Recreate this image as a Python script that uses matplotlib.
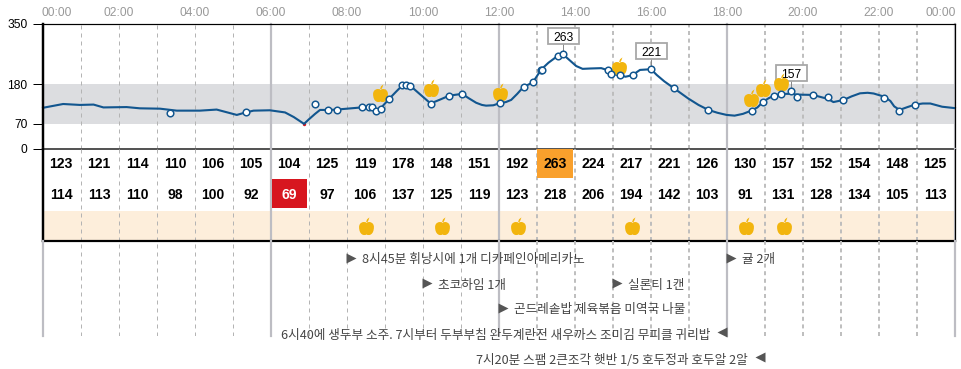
import matplotlib
matplotlib.use("Agg")
import matplotlib.pyplot as plt
from matplotlib.path import Path
from matplotlib.patches import Rectangle
from matplotlib.transforms import IdentityTransform

plt.rcParams['font.family'] = ['Liberation Sans', 'DejaVu Sans']

# --- data -------------------------------------------------------------
curve_h = [0, .25, .53, .97, 1.33, 1.59, 2.2, 2.55, 3.08, 3.52, 4.13, 4.57, 5.1, 5.3, 5.54, 5.97, 6.37, 6.6,
           6.87, 7.0, 7.16, 7.29, 7.51, 7.73, 8.38, 8.6, 8.76, 8.88, 9.11, 9.3, 9.46, 9.65, 10.2, 10.45, 10.69, 11.03,
           11.2, 11.4, 11.55, 11.66, 11.85, 12.02, 12.18, 12.32, 12.48, 12.64, 12.89, 13.11, 13.3, 13.54, 13.68, 13.85, 14.03,
           14.2, 14.4, 14.69, 14.84, 14.92, 15.16, 15.33, 15.5, 15.6, 15.71, 16.0, 16.15, 16.35, 16.6, 16.98, 17.25, 17.51,
           17.75, 17.99, 18.2, 18.42, 18.64, 18.8, 18.95, 19.1,
           19.24, 19.43, 19.7, 19.84, 20.26, 20.65, 20.8, 21.07, 21.28, 21.5, 21.7, 21.86, 22.14, 22.3, 22.4, 22.54, 22.75, 22.95,
           23.15, 23.35, 23.66, 24]
curve_v = [114, 119, 124.6, 122, 123, 115, 116, 112.5, 111.5, 106, 106, 109, 94, 100, 106, 107, 101, 88,
           69, 82, 97, 108, 108, 109, 115, 115, 106, 112, 139, 160, 177, 177, 126, 137, 148, 153,
           141, 128, 122, 120, 121, 127, 130, 136, 153, 172, 185, 221, 240, 259, 264, 248, 231,
           223, 224, 225, 220, 210, 205, 201, 205, 212, 220, 222, 206, 188, 169, 140, 122, 108,
           100, 94, 92, 97, 106, 115, 131, 141,
           148, 153, 153, 151, 150, 139, 130, 136, 146, 154.5, 156, 154, 145, 133, 118, 108, 116, 123,
           126, 126, 117, 113]

marker_h = [3.34, 5.35, 7.16, 7.51, 7.73, 8.39, 8.58, 8.67, 8.75, 8.89, 9.11, 9.46, 9.56, 9.65, 10.21,
            10.69, 11.03, 12.03, 12.66, 12.90, 13.1, 13.12, 13.55, 13.69, 14.86, 14.94, 15.18, 15.53,
            16.0, 16.6, 17.51, 18.65, 18.96, 19.24, 19.43, 19.69, 19.83, 20.25, 20.65, 21.06, 22.13,
            22.53, 22.94]
marker_v = [99, 101, 125, 108, 109, 116, 116, 115, 106, 112, 139, 177, 179, 176, 126,
            148, 153, 128, 172, 185, 219, 221, 259, 264, 220, 210, 205, 205,
            222, 169, 108, 106, 131, 148, 153, 160, 143, 150, 144, 136, 142,
            106, 123]

callout_h = [13.69, 16.0, 19.69]
callout_v = [264, 222, 160]
callout_text = ['263', '221', '157']

apple_h = [8.87, 10.21, 12.03, 15.16, 18.63, 18.95, 19.42]
apple_v = [155.5, 169.5, 158, 231, 141.5, 169.5, 186]
strip_apple_h = [8.5, 10.5, 12.5, 15.5, 18.5, 19.5]

row_high = [123, 121, 114, 110, 106, 105, 104, 125, 119, 178, 148, 151,
            192, 263, 224, 217, 221, 126, 130, 157, 152, 154, 148, 125]
row_low = [114, 113, 110, 98, 100, 92, 69, 97, 106, 137, 125, 119,
           123, 218, 206, 194, 142, 103, 91, 131, 128, 134, 105, 113]

hour_labels = ['00:00', '02:00', '04:00', '06:00', '08:00', '10:00', '12:00',
               '14:00', '16:00', '18:00', '20:00', '22:00', '00:00']
hour_label_pos = [.37, 2, 4, 6, 8, 10, 12, 14, 16, 18, 20, 22, 23.63]
y_ticks = [0, 70, 180, 350]

note_right_h = [8, 10, 12, 15, 18]
note_right_row = [260, 285, 310, 285, 260]
note_right_text = ['8시45분 휘낭시에 1개 디카페인아메리카노', '초코하임 1개',
                   '곤드레솥밥 제육볶음 미역국 나물', '실론티 1캔', '귤 2개']
note_left_h = [18, 19]
note_left_row = [334, 359]
note_left_text = ['6시40에 생두부 소주. 7시부터 두부부침 완두계란전 새우까스 조미김 무피클 귀리밥',
                  '7시20분 스팸 2큰조각 햇반 1/5 호두정과 호두알 2알']

# --- layout -----------------------------------------------------------
W, H = 962, 369
PX = 0.72
X0, X1 = 43, 955
fig = plt.figure(figsize=(W / 100, H / 100), dpi=100)


def make_ax(top, bottom):
    a = fig.add_axes([X0 / W, 1 - bottom / H, (X1 - X0) / W, (bottom - top) / H])
    a.set_xlim(0, 24)
    a.patch.set_alpha(0)
    for s in a.spines.values():
        s.set_visible(False)
    a.set_xticks([])
    a.set_yticks([])
    return a


ax = make_ax(23.5, 148.5)
tb = make_ax(148.5, 241)
nt = make_ax(241, 336)
ax.set_ylim(0, 350)
tb.set_ylim(241, 148.5)
nt.set_ylim(336, 241)

BLUE = '#12568f'
APPLE = '#f2b50e'

apple = Path(
    [(0, -.88), (.25, -1.05), (.82, -.95), (.82, -.05), (.82, .45), (.30, .62), (0, .42),
     (-.30, .62), (-.82, .45), (-.82, -.05), (-.82, -.95), (-.25, -1.05), (0, -.88), (0, -.88),
     (-.05, .48), (.06, .80), (.32, 1.0), (.22, .70), (.10, .48), (-.05, .48)],
    [Path.MOVETO] + [Path.CURVE4] * 12 + [Path.CLOSEPOLY,
     Path.MOVETO] + [Path.LINETO] * 4 + [Path.CLOSEPOLY])

# grid
for a in (ax, tb, nt):
    for h in range(25):
        if h % 6 == 0:
            a.axvline(h, color='#bdbdc3', lw=2.2 * PX, zorder=1.5, clip_on=False)
        elif h < 12:
            a.axvline(h, color='#b4b4b4', lw=1 * PX, ls=(0, (4, 4)), zorder=1.5)
        else:
            a.axvline(h, color='#bcbcbc', lw=1.9 * PX, ls=(0, (2.1, 1.9)), zorder=1.5)

# chart panel
ax.axhspan(70, 180, color='#dcdde0', lw=0, zorder=1)
ax.plot(curve_h, curve_v, color=BLUE, lw=2.1 * PX, zorder=3, solid_joinstyle='round', clip_on=False)
ax.plot(curve_h[curve_v.index(min(curve_v))], min(curve_v), 'o', color='#d7161f', ms=2 * PX, zorder=2.5)

fig.canvas.draw()
for h, v, s in zip(callout_h, callout_v, callout_text):
    px, py = ax.transData.transform((h, v))
    ax.plot([px, px], [py, py + 11], color='#888888', lw=1 * PX, transform=IdentityTransform(), zorder=4, clip_on=False)
    ax.add_patch(Rectangle((px - 15.5, py + 10), 31, 16, fc='white', ec='#a8a8a8', lw=1.8 * PX,
                           transform=IdentityTransform(), zorder=4, clip_on=False))
    ax.text(px, py + 18, s, fontsize=12 * PX, color='black', ha='center', va='center_baseline',
            transform=IdentityTransform(), zorder=4.1)

ax.plot(apple_h, apple_v, ls='none', marker=apple, ms=19 * PX, mfc=APPLE, mec='none', zorder=5, clip_on=False)
ax.plot(marker_h, marker_v, ls='none', marker='o', ms=6.6 * PX, mfc='white', mec=BLUE, mew=1.5 * PX, zorder=6, clip_on=False)

for x, s in zip(hour_label_pos, hour_labels):
    ax.text(x, 1.087, s, transform=ax.get_xaxis_transform(), ha='center', va='center',
            fontsize=12 * PX, color='#999999')

ax.set_yticks(y_ticks)
ax.tick_params(axis='y', length=10 * PX, width=1 * PX, pad=5.5 * PX, labelsize=12 * PX, colors='black')

# table panel
tb.add_patch(Rectangle((0, 211), 24, 30, fc='#fdeedb', ec='none', zorder=1))
hi_i = row_high.index(max(row_high))
lo_i = row_low.index(min(row_low))
tb.add_patch(Rectangle((hi_i + .01, 149), .95, 28.5, fc='#f9a02c', ec='none', zorder=2))
tb.add_patch(Rectangle((lo_i + .03, 179), .92, 29, fc='#d7161f', ec='none', zorder=2))
for i, (a_, b_) in enumerate(zip(row_high, row_low)):
    tb.text(i + .48, 164, str(a_), ha='center', va='center', fontsize=14 * PX, fontweight='bold', color='black', zorder=3)
    tb.text(i + .48, 195, str(b_), ha='center', va='center', fontsize=14 * PX, fontweight='bold',
            color='white' if i == lo_i else 'black', zorder=3)
tb.plot(strip_apple_h, [226] * len(strip_apple_h), ls='none', marker=apple, ms=19 * PX, mfc=APPLE, mec='none', zorder=4)

# frame
ax.axhline(350, color='black', lw=1.2 * PX, zorder=7, clip_on=False)
ax.axhline(0, color='#555555', lw=2 * PX, zorder=7, clip_on=False)
tb.axhline(241, color='black', lw=2.2 * PX, zorder=7, clip_on=False)
for a in (ax, tb):
    a.axvline(0, color='black', lw=2.4 * PX, zorder=7, clip_on=False)
    a.axvline(24, color='black', lw=1.2 * PX, zorder=7, clip_on=False)

# notes
KR = ['Noto Sans CJK KR', 'DejaVu Sans']
for h, r, s in zip(note_right_h, note_right_row, note_right_text):
    nt.plot(h + .11, r - 2, ls='none', marker='>', ms=9.5 * PX, mfc='#555555', mec='none', zorder=5, clip_on=False)
    nt.text(h + .39, r, s, family=KR, ha='left', va='center', fontsize=12.65 * PX, color='#444444', zorder=6, clip_on=False)
for h, r, s in zip(note_left_h, note_left_row, note_left_text):
    nt.plot(h - .12, r - 2, ls='none', marker='<', ms=9.5 * PX, mfc='#555555', mec='none', zorder=5, clip_on=False)
    nt.text(h - .45, r + 1, s, family=KR, ha='right', va='center', fontsize=12.65 * PX, color='#444444', zorder=6, clip_on=False)

fig.savefig('out.png', dpi=100, facecolor='white')
